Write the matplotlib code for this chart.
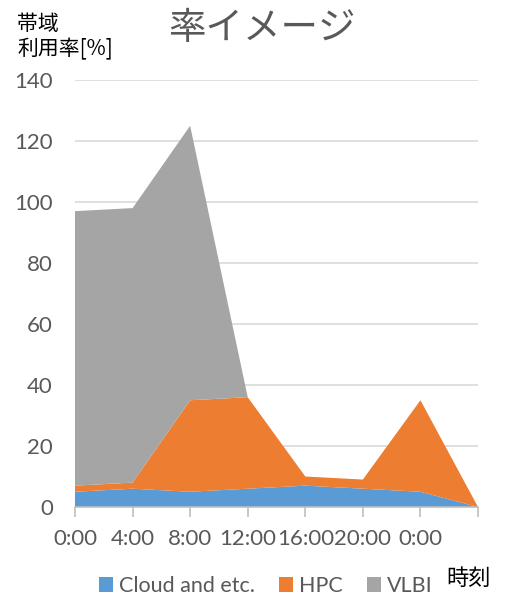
import matplotlib
matplotlib.use("Agg")
import matplotlib.pyplot as plt
from matplotlib.patches import Patch

# data
times = ["0:00", "4:00", "8:00", "12:00", "16:00", "20:00", "0:00", ""]
cloud = [5, 6, 5, 6, 7, 6, 5, 0]
hpc = [2, 2, 30, 30, 3, 3, 30, 0]
vlbi = [90, 90, 90, 0, 0, 0, 0, 0]
series_names = ["Cloud and etc.", "HPC", "VLBI"]
colors = ["#5B9BD5", "#ED7D31", "#A5A5A5"]

TEXT = "#595959"
LATIN = ["Lato", "Noto Sans CJK JP", "DejaVu Sans"]
CJK = ["Noto Sans CJK JP", "DejaVu Sans"]

W, H = 507, 595
fig = plt.figure(figsize=(W / 100, H / 100), dpi=100, facecolor="white")
ax = fig.add_axes([75 / W, (H - 507) / H, (478 - 75) / W, (507 - 80) / H])

x = list(range(len(times)))
ax.stackplot(x, cloud, hpc, vlbi, colors=colors, linewidth=0, zorder=2)

ax.set_xlim(0, len(times) - 1)
ax.set_ylim(0, 140)
ax.set_yticks(range(0, 141, 20))
ax.yaxis.grid(True, color="#D9D9D9", linewidth=1.2, zorder=0)
ax.set_axisbelow(True)

ax.set_xticks(x)
ax.set_xticklabels(times)
for spine in ("top", "right", "left"):
    ax.spines[spine].set_visible(False)
ax.spines["bottom"].set_color("#BFBFBF")
ax.spines["bottom"].set_linewidth(1.2)
ax.tick_params(axis="x", length=7, width=1.2, color="#BFBFBF", direction="out",
               pad=9, labelsize=16, labelcolor=TEXT)
ax.tick_params(axis="y", length=0, pad=16, labelsize=16, labelcolor=TEXT)
for lbl in ax.get_xticklabels() + ax.get_yticklabels():
    lbl.set_family(LATIN)

fig.text(262 / W, 1 - 29 / H, "率イメージ", ha="center", va="center",
         fontsize=27, color=TEXT, family=CJK)
fig.text(17 / W, 1 - 37 / H, "帯域\n利用率[%]", ha="left", va="center",
         fontsize=15, color="black", family=CJK, linespacing=1.2)
fig.text(469 / W, 1 - 578 / H, "時刻", ha="center", va="center",
         fontsize=16, color="black", family=CJK)

handles = [Patch(facecolor=c, edgecolor="none") for c in colors]
leg = fig.legend(handles, series_names, loc="center", ncol=3,
                 bbox_to_anchor=(266 / W, 1 - 586 / H), frameon=False,
                 handlelength=0.65, handleheight=0.65, handletextpad=0.3,
                 columnspacing=1.1, borderpad=0,
                 prop={"family": LATIN, "size": 15.5})
for t in leg.get_texts():
    t.set_color(TEXT)

fig.savefig("out.png", dpi=100, facecolor="white")
